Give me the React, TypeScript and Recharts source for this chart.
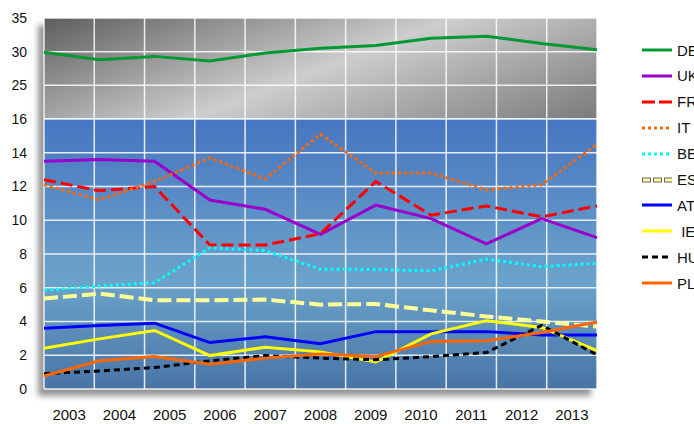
import { LineChart, Line, XAxis, YAxis, CartesianGrid } from 'recharts';

const years = ['2003', '2004', '2005', '2006', '2007', '2008', '2009', '2010', '2011', '2012', '2013'];

const de = [29.9, 28.8, 29.3, 28.6, 29.8, 30.5, 30.9, 32.0, 32.3, 31.2, 30.3];
const uk = [13.5, 13.6, 13.5, 11.2, 10.65, 9.17, 10.9, 10.1, 8.6, 10.1, 8.97];
const fr = [12.4, 11.75, 12.0, 8.53, 8.53, 9.2, 12.3, 10.3, 10.85, 10.2, 10.85];
const it = [12.1, 11.2, 12.3, 13.7, 12.45, 15.1, 12.8, 12.8, 11.8, 12.1, 14.5];
const be = [5.85, 6.1, 6.3, 8.37, 8.2, 7.1, 7.08, 7.0, 7.7, 7.25, 7.45];
const es = [5.36, 5.65, 5.26, 5.26, 5.3, 5.0, 5.04, 4.66, 4.3, 4.0, 3.7];
const at = [3.6, 3.77, 3.9, 2.75, 3.1, 2.68, 3.4, 3.4, 3.4, 3.2, 3.2];
const ie = [2.42, 2.97, 3.47, 1.98, 2.48, 2.2, 1.6, 3.27, 4.05, 3.65, 2.28];
const hu = [0.9, 1.07, 1.27, 1.67, 1.98, 1.83, 1.73, 1.92, 2.16, 3.77, 2.02];
const pl = [0.77, 1.67, 1.92, 1.47, 1.83, 2.08, 1.92, 2.82, 2.86, 3.35, 3.97];

const upperTicks = [20, 25, 30, 35];
const lowerTicks = [0, 2, 4, 6, 8, 10, 12, 14, 16];

const rows = years.map((y, i) => ({
  idx: i,
  DE: de[i], UK: uk[i], FR: fr[i], IT: it[i], BE: be[i],
  ES: es[i], AT: at[i], IE: ie[i], HU: hu[i], PL: pl[i],
}));

const series = [
  { key: 'DE', color: '#009933', dash: undefined, width: 3, label: 'DE' },
  { key: 'UK', color: '#9900cc', dash: undefined, width: 3, label: 'UK' },
  { key: 'FR', color: '#ff0000', dash: '12 5', width: 3, label: 'FR' },
  { key: 'IT', color: '#ff6600', dash: '3 3', width: 3, label: 'IT' },
  { key: 'BE', color: '#00ffff', dash: '3 3', width: 3, label: 'BE' },
  { key: 'ES', color: '#ffff99', dash: '14 5', width: 4, label: 'ES' },
  { key: 'AT', color: '#0000ff', dash: undefined, width: 3, label: 'AT' },
  { key: 'IE', color: '#ffff00', dash: undefined, width: 3, label: ' IE' },
  { key: 'HU', color: '#000000', dash: '6 4', width: 3, label: 'HU' },
  { key: 'PL', color: '#ff6600', dash: undefined, width: 3, label: 'PL' },
];

const N = years.length;
// year labels sit in the middle of each of the 11 grid columns
const labelTicks = years.map((_, k) => ((k + 0.5) * (N - 1)) / N);
const vGrid = ({ offset }: any) =>
  Array.from({ length: N + 1 }, (_, k) => offset.left + (k * offset.width) / N);

const FONT = '"Liberation Sans", Arial, sans-serif';
const W = 694;
const M = { left: 0, right: 97 };

function Legend() {
  return (
    <div style={{ position: 'absolute', left: 0, top: 0 }}>
      {series.map((s, i) => (
        <div
          key={s.key}
          style={{ position: 'absolute', left: 640, top: 50 + i * 25.9 - 10, height: 20, display: 'flex', alignItems: 'center', whiteSpace: 'pre' }}
        >
          <svg width={34} height={10}>
            {s.key === 'ES' && (
              <line x1={2} y1={5} x2={32} y2={5} stroke="#666" strokeWidth={5} strokeDasharray="9 2" />
            )}
            <line
              x1={s.key === 'ES' ? 3 : 2}
              y1={5}
              x2={32}
              y2={5}
              stroke={s.color}
              strokeWidth={3}
              strokeDasharray={s.key === 'ES' ? '7 4' : s.key === 'FR' ? '13 4' : s.dash}
            />
          </svg>
          <span style={{ fontSize: 15, color: '#111', marginLeft: 3 }}>{s.label}</span>
        </div>
      ))}
    </div>
  );
}

export default function App() {
  return (
    <div style={{ position: 'fixed', left: 0, top: 0, width: W, height: 424, background: '#fff', overflow: 'hidden', fontFamily: FONT }}>
      <div style={{ position: 'absolute', left: 44, top: 18, width: 553, height: 371, background: '#fff', boxShadow: '-6px 7px 6px rgba(0,0,0,0.42)' }} />
      <div style={{ position: 'absolute', left: 0, top: 0 }}>
        <LineChart width={W} height={119} data={rows} margin={{ top: 18, right: M.right, left: M.left, bottom: 0 }}>
          <defs>
            <linearGradient id="grayBg" gradientUnits="userSpaceOnUse" x1={44} y1={18} x2={148} y2={291}>
              <stop offset="0" stopColor="#5e5e5e" />
              <stop offset="0.5" stopColor="#cdcdcd" />
              <stop offset="1" stopColor="#7a7a7a" />
            </linearGradient>
          </defs>
          <CartesianGrid fill="url(#grayBg)" fillOpacity={1} stroke="#ffffff" strokeOpacity={0.85} strokeWidth={1.5} verticalCoordinatesGenerator={vGrid} />
          <XAxis type="number" dataKey="idx" domain={[0, N - 1]} hide />
          <YAxis
            domain={[20, 35]}
            ticks={upperTicks}
            allowDataOverflow
            width={44}
            axisLine={false}
            tickLine={false}
            tickSize={0}
            tickMargin={17}
            tickFormatter={(v: number) => (v === 20 ? '' : String(v))}
            tick={{ fill: '#111', fontSize: 14, fontFamily: FONT }}
          />
          <Line type="linear" dataKey="DE" stroke="#009933" strokeWidth={3} dot={false} isAnimationActive={false} />
        </LineChart>
      </div>
      <div style={{ position: 'absolute', left: 0, top: 109 }}>
        <LineChart width={W} height={315} data={rows} margin={{ top: 10, right: M.right, left: M.left, bottom: 0 }}>
          <defs>
            <linearGradient id="blueBg" x1="0" y1="0" x2="0" y2="1">
              <stop offset="0" stopColor="#4676c1" />
              <stop offset="0.6" stopColor="#6ca3ca" />
              <stop offset="1" stopColor="#4874a6" />
            </linearGradient>
          </defs>
          <CartesianGrid fill="url(#blueBg)" fillOpacity={1} stroke="#ffffff" strokeOpacity={0.85} strokeWidth={1.5} verticalCoordinatesGenerator={vGrid} />
          <XAxis
            type="number"
            dataKey="idx"
            domain={[0, N - 1]}
            ticks={labelTicks}
            height={35}
            axisLine={false}
            tickLine={false}
            tickSize={0}
            tickMargin={20}
            interval={0}
            tickFormatter={(v: number) => years[Math.round((v * N) / (N - 1) - 0.5)]}
            tick={{ fill: '#111', fontSize: 15, fontFamily: FONT }}
          />
          <YAxis
            domain={[0, 16]}
            ticks={lowerTicks}
            allowDataOverflow
            width={44}
            axisLine={false}
            tickLine={false}
            tickSize={0}
            tickMargin={17}
            tick={{ fill: '#111', fontSize: 14, fontFamily: FONT }}
          />
          {series.slice(1).map((s) => (
            <Line
              key={s.key}
              type="linear"
              dataKey={s.key}
              stroke={s.color}
              strokeWidth={s.width}
              strokeDasharray={s.dash}
              dot={false}
              isAnimationActive={false}
            />
          ))}
        </LineChart>
      </div>
      <Legend />
    </div>
  );
}
